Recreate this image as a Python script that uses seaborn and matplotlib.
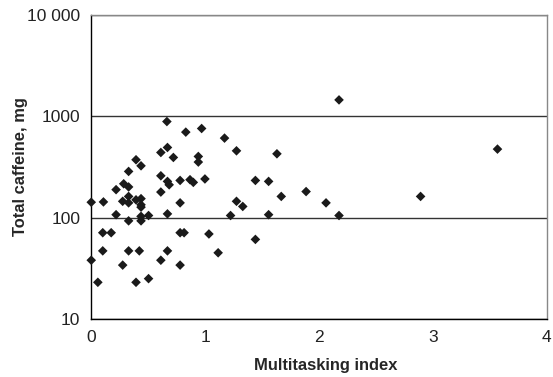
import numpy as np
import pandas as pd
import seaborn as sns
from matplotlib import pyplot as plt
from matplotlib.ticker import FixedLocator, FuncFormatter, NullLocator

# multitasking index vs total caffeine (mg)
multitasking = [
    0.664, 0.830, 0.969, 1.170, 1.275, 0.611, 0.669, 0.721, 0.940, 0.940,
    0.393, 0.437, 0.328, 0.611, 0.669, 0.684, 0.780, 0.867, 0.896, 0.998,
    0.285, 0.328, 0.218, 0.611, 0.000, 0.107, 0.276, 0.328, 0.328, 0.393,
    0.437, 0.437, 0.437, 0.780, 1.275, 0.218, 0.328, 0.437, 0.437, 0.503,
    0.669, 1.223, 0.101, 0.175, 0.780, 0.815, 1.033, 0.101, 0.328, 0.422,
    0.669, 1.114, 0.000, 0.276, 0.611, 0.780, 0.058, 0.393, 0.503, 2.175,
    1.630, 1.441, 1.557, 1.668, 1.886, 1.330, 2.061, 1.557, 2.175, 1.441,
    3.566, 2.891,
]
caffeine = [
    889, 699, 759, 610, 457, 440, 493, 393, 402, 354,
    373, 325, 286, 259, 228, 211, 233, 237, 223, 241,
    216, 201, 189, 179, 142, 143, 145, 162, 140, 150,
    154, 134, 127, 140, 145, 107, 93, 103, 93, 105,
    109, 105, 71, 71, 71, 71, 69, 47, 47, 47,
    47, 45, 38, 34, 38, 34, 23, 23, 25, 1454,
    427, 233, 228, 162, 181, 129, 140, 107, 105, 61,
    475, 162,
]

x_ticks = [0, 1, 2, 3, 4]
y_ticks = [10, 100, 1000, 10000]

df = pd.DataFrame({"multitasking": multitasking, "caffeine": caffeine})

sns.set_style("white")
plt.rcParams["font.family"] = ["Liberation Sans", "DejaVu Sans"]

fig = plt.figure(figsize=(5.53, 3.77), dpi=100)
ax = fig.add_axes([0.165, 0.154, 0.824, 0.806])

sns.scatterplot(data=df, x="multitasking", y="caffeine", ax=ax, marker="D",
                s=24, color="#1a1a1a", edgecolor="none", clip_on=False,
                zorder=3)

ax.set_yscale("log")
ax.set_ylim(10, 10000)
ax.set_xlim(0, 4)
ax.yaxis.set_major_locator(FixedLocator(y_ticks))
ax.yaxis.set_minor_locator(NullLocator())
ax.yaxis.set_major_formatter(
    FuncFormatter(lambda v, p: f"{int(round(v)):,}".replace(",", " ") if v >= 10000 else f"{int(round(v))}"))
ax.set_xticks(x_ticks)

ax.grid(axis="y", color="#333333", linewidth=1.0)
ax.grid(axis="x", visible=False)
ax.set_axisbelow(True)

for side in ["left", "bottom"]:
    ax.spines[side].set_color("black")
    ax.spines[side].set_linewidth(1.0)
for side in ["top", "right"]:
    ax.spines[side].set_color("#888888")
    ax.spines[side].set_linewidth(1.0)

ax.tick_params(axis="both", direction="out", length=4, width=1, color="black",
               labelsize=12.5, pad=4, colors="black")
ax.tick_params(axis="both", labelcolor="#222222")

ax.set_xlabel("Multitasking index", fontsize=11.9, fontweight="bold")
ax.set_ylabel("Total caffeine, mg", fontsize=11.9, fontweight="bold")
ax.xaxis.set_label_coords(0.515, -0.13)
ax.yaxis.set_label_coords(-0.138, 0.5)

fig.savefig("out.png", dpi=100)
